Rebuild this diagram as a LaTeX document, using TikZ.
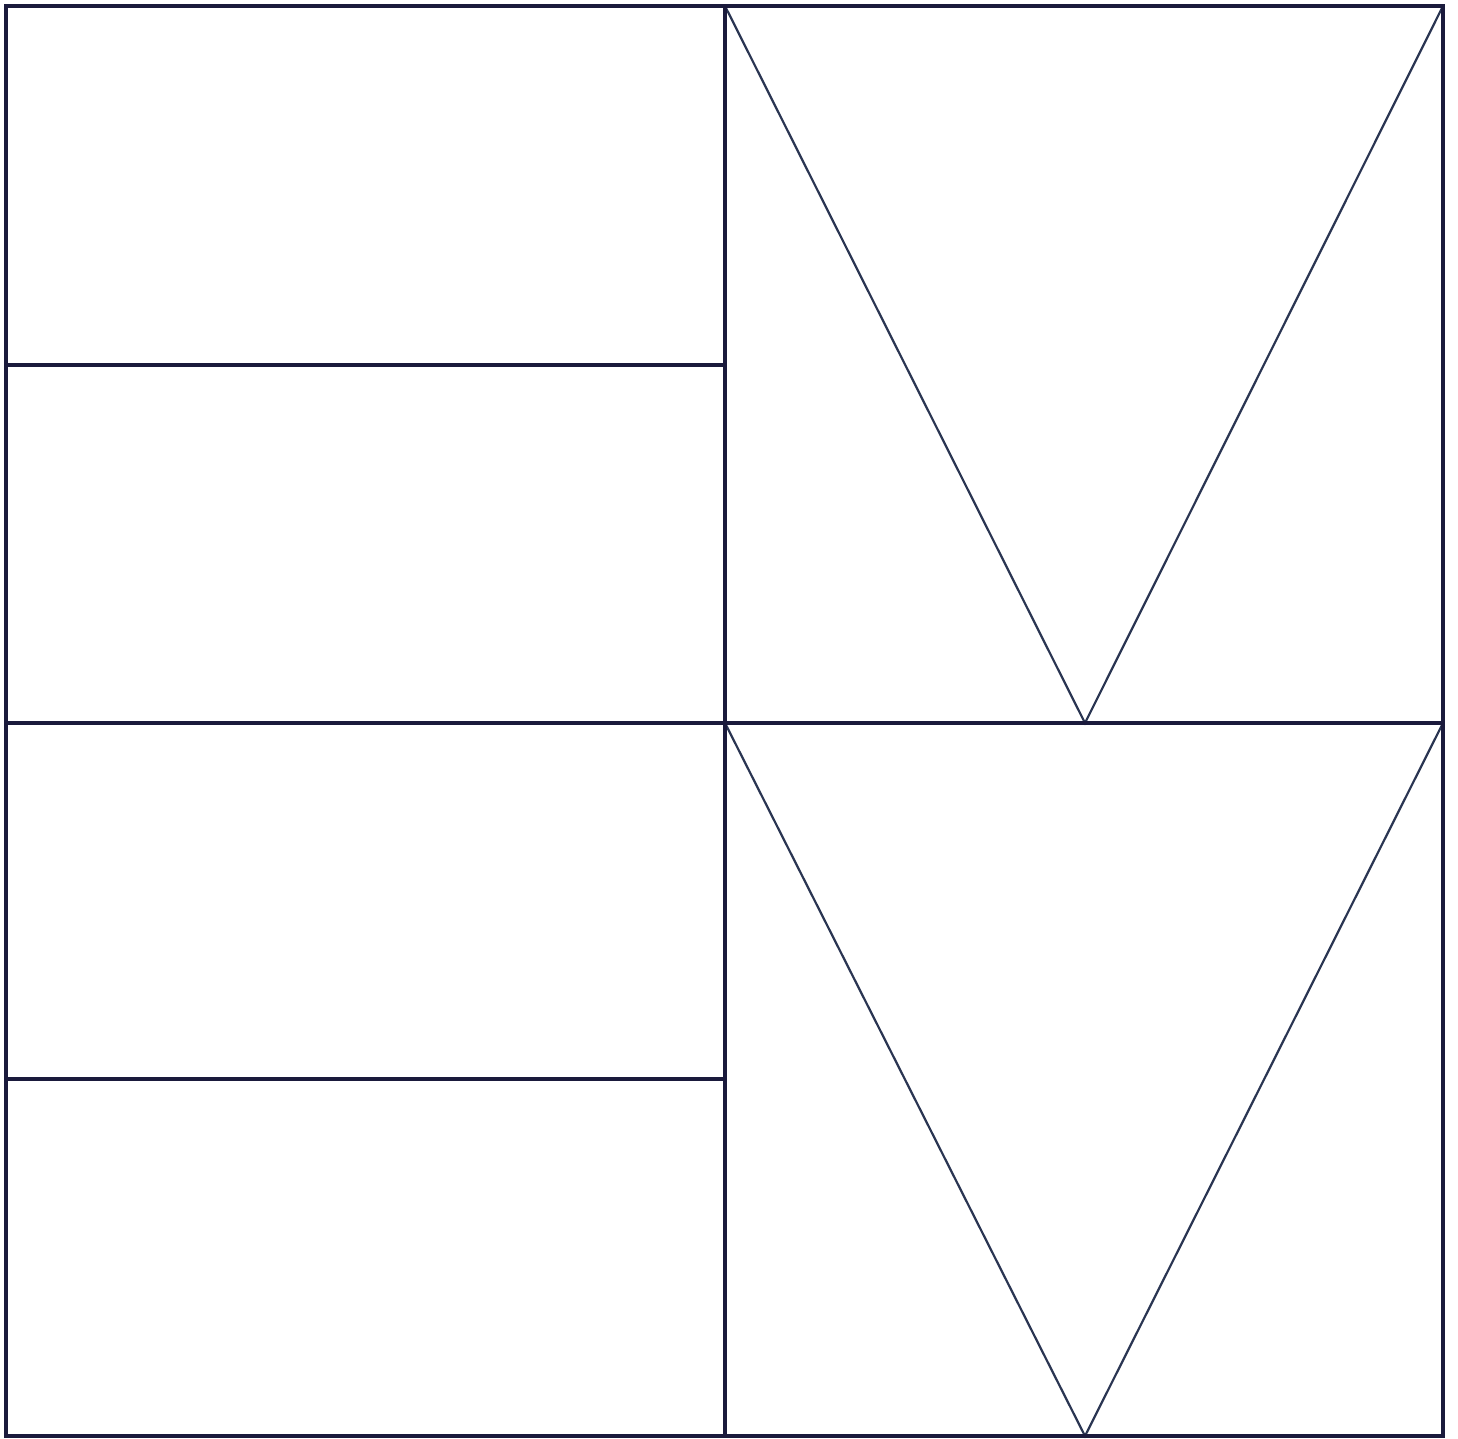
\documentclass[tikz,border=0pt]{standalone}
\usepackage{tikz}
\definecolor{ink}{HTML}{1A1A3C}
\definecolor{vink}{HTML}{2A3552}
\tikzset{
  frame/.style={draw=ink, line width=1.7pt},
  vline/.style={draw=vink, line width=1.1pt, line join=miter}
}
\begin{document}
\begin{tikzpicture}[x=0.5pt, y=-0.5pt]
\useasboundingbox (0,0) rectangle (1458,1439);
\fill[white] (0,0) rectangle (1458,1439);
% key points
\coordinate (tl) at (6,6);
\coordinate (tr) at (1443,6);
\coordinate (bl) at (6,1436);
\coordinate (br) at (1443,1436);
\coordinate (mt) at (725,6);
\coordinate (mb) at (725,1436);
\coordinate (ml) at (6,723);
\coordinate (mr) at (1443,723);
\coordinate (mm) at (725,723);
\coordinate (q1l) at (6,365);
\coordinate (q1r) at (725,365);
\coordinate (q3l) at (6,1079);
\coordinate (q3r) at (725,1079);
\coordinate (apex1) at (1085,723);
\coordinate (apex2) at (1085,1436);
% triangles
\draw[vline] (mt) -- (apex1) -- (tr);
\draw[vline] (mm) -- (apex2) -- (mr);
% frame and dividers
\draw[frame] (tl) rectangle (br);
\draw[frame] (mt) -- (mb);
\draw[frame] (ml) -- (mr);
\draw[frame] (q1l) -- (q1r);
\draw[frame] (q3l) -- (q3r);
\end{tikzpicture}
\end{document}
